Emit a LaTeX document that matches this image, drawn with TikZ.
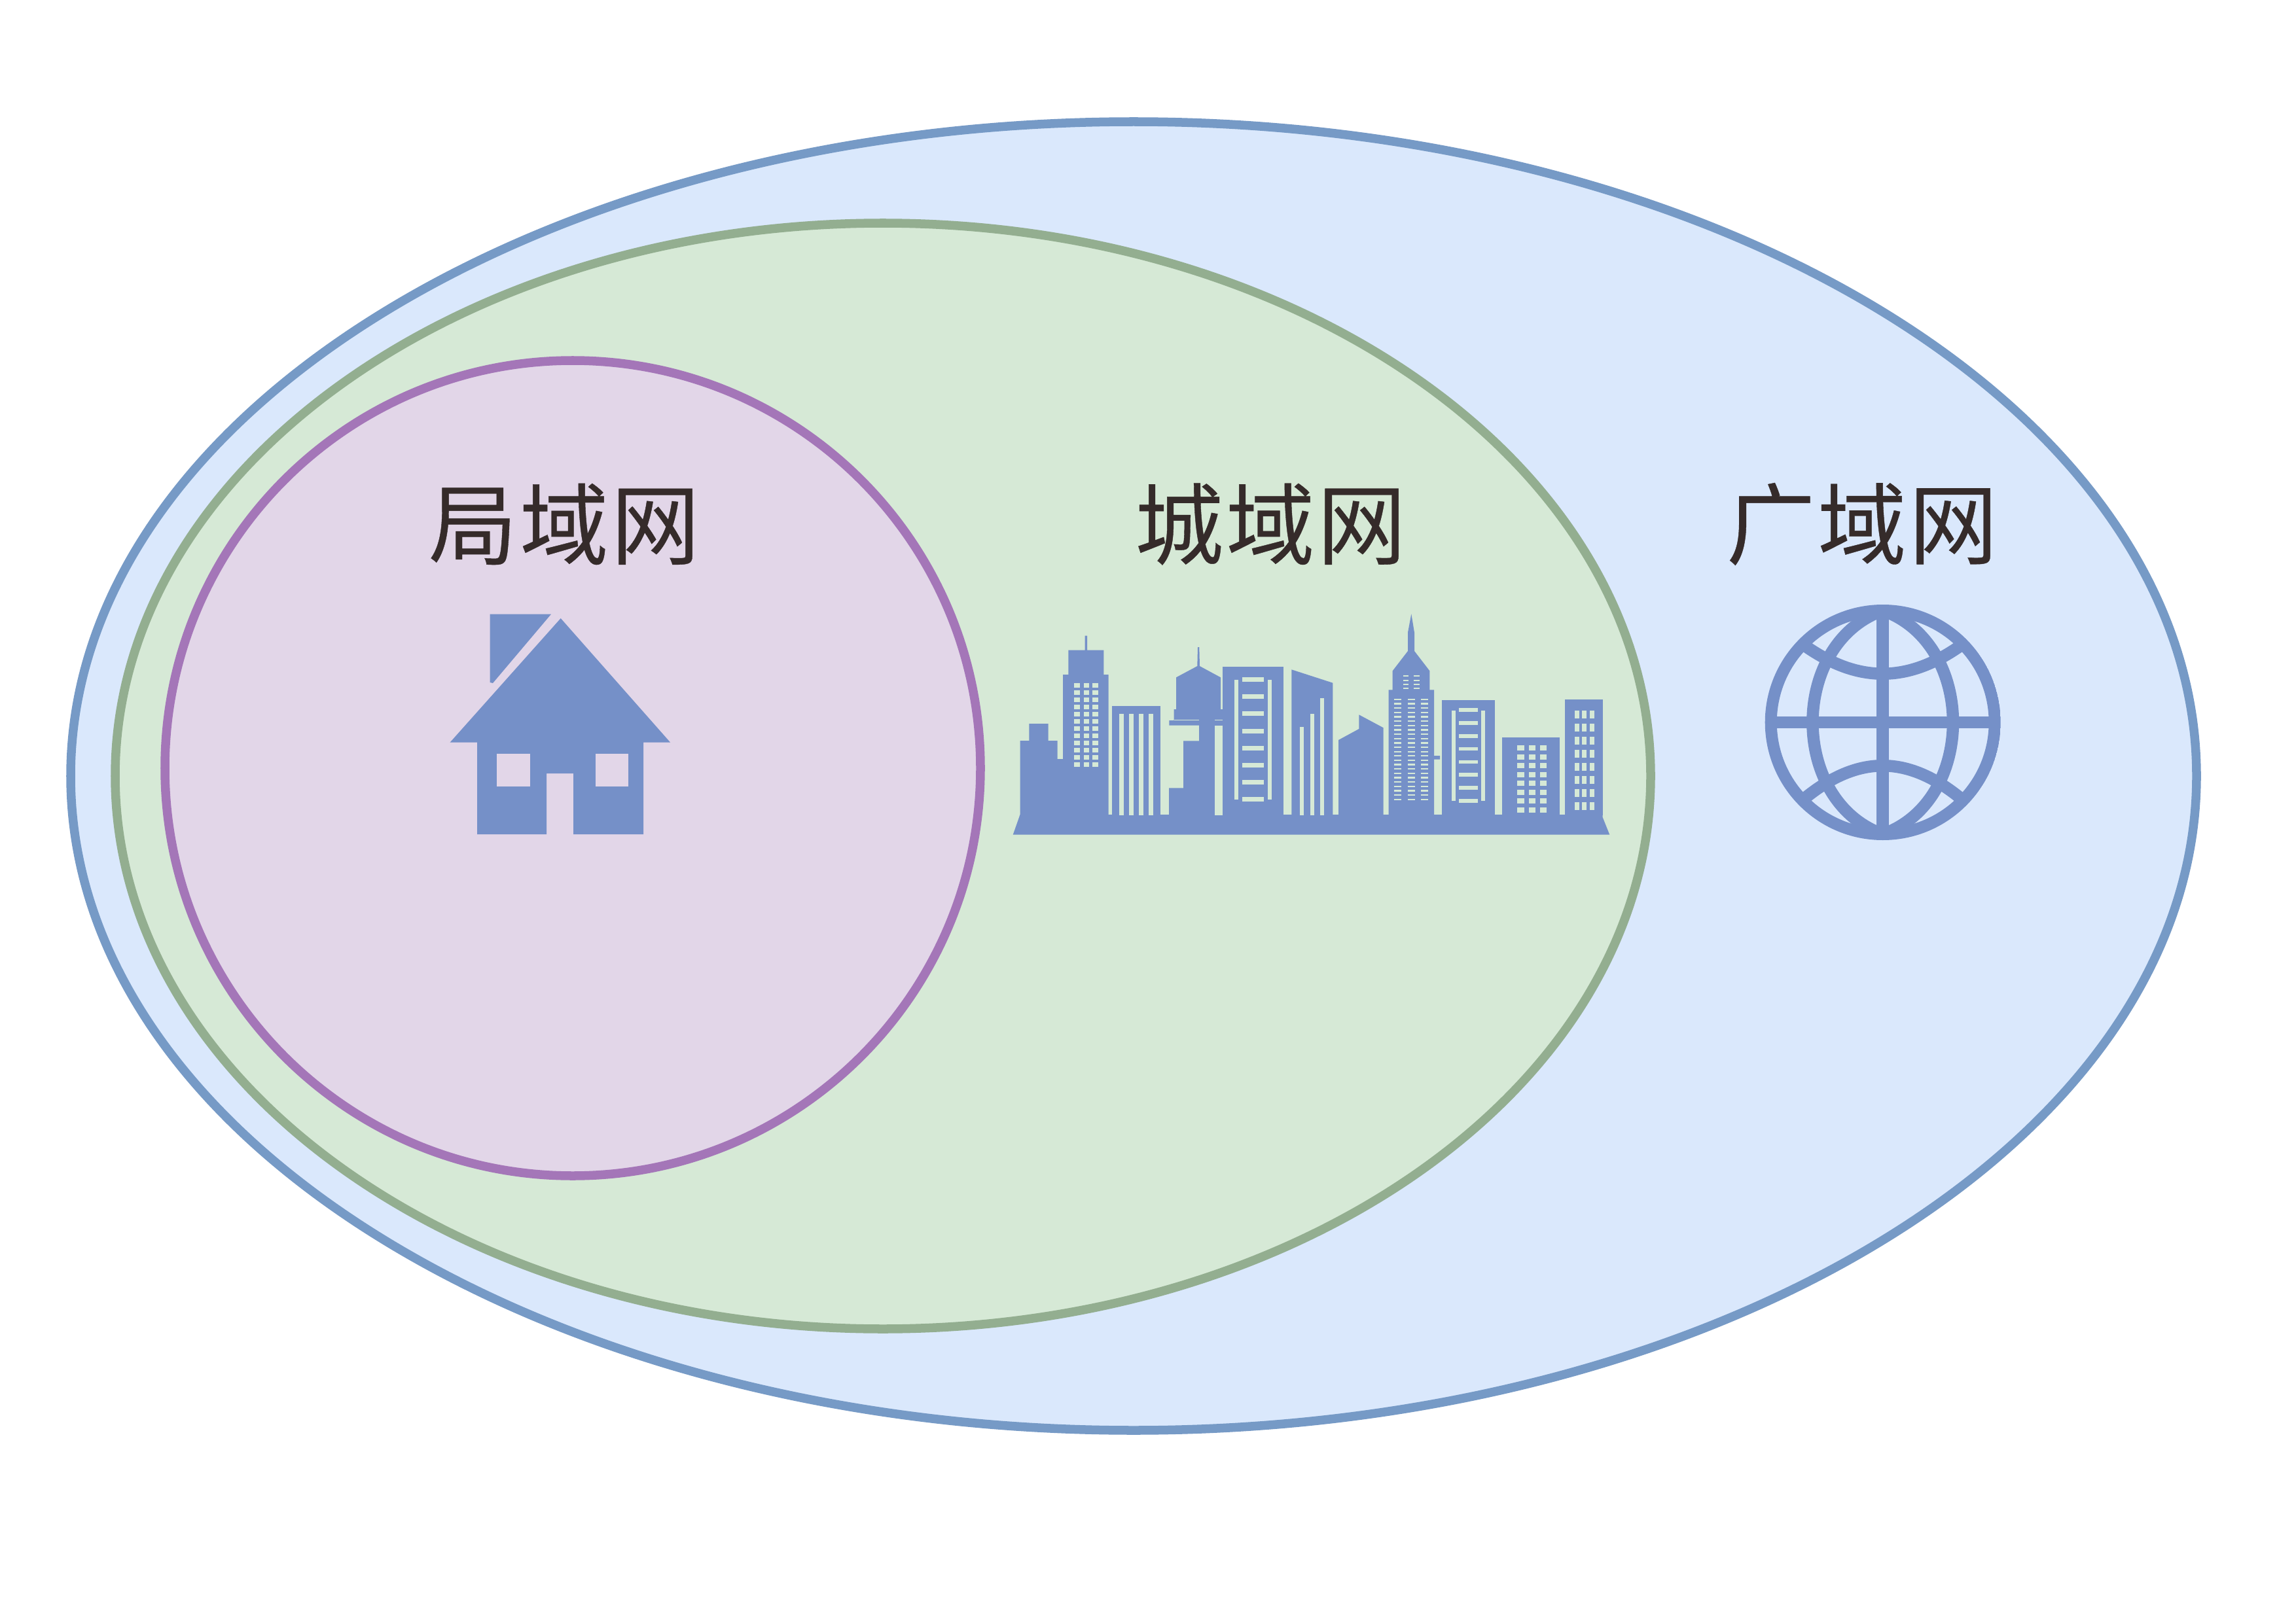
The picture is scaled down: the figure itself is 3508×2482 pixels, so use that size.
\documentclass[tikz,border=0pt]{standalone}
\usepackage{fontspec}
\setmainfont[LetterSpace=3,FakeBold=0.3]{Noto Sans CJK SC}
\definecolor{wanfill}{HTML}{DAE8FC}
\definecolor{wanline}{HTML}{769AC6}
\definecolor{manfill}{HTML}{D6E9D6}
\definecolor{manline}{HTML}{93AE90}
\definecolor{lanfill}{HTML}{E2D6E8}
\definecolor{lanline}{HTML}{A476B8}
\definecolor{iconcol}{HTML}{7590C8}
\definecolor{textcol}{HTML}{352B2A}
\tikzset{
  areatext/.style={text=textcol, font=\fontsize{38.5}{38.5}\selectfont, inner sep=0pt},
  icon/.style={fill=iconcol},
  cutman/.style={fill=manfill},
  cutlan/.style={fill=lanfill},
  globeline/.style={line width=0.185cm, draw=iconcol}
}
\begin{document}
\begin{tikzpicture}[x=0.01cm, y=-0.01cm]
    \useasboundingbox (0,0) rectangle (3508,2482);

    % nested areas
    \draw[line width=0.135cm, draw=wanline, fill=wanfill] (1732,1186) ellipse [x radius=1624, y radius=1000];
    \draw[line width=0.135cm, draw=manline, fill=manfill] (1349,1186) ellipse [x radius=1173, y radius=845];
    \draw[line width=0.135cm, draw=lanline, fill=lanfill] (875,1174) circle [radius=623];

    \node[areatext] (lanlabel) at (862,801) {局域网};
    \node[areatext] (manlabel) at (1941,801) {城域网};
    \node[areatext] (wanlabel) at (2845,801) {广域网};

    % house
    \fill[icon] (748.7,938.7) -- (842,938.7) -- (753,1044) -- (748.7,1043) -- cycle;
    \fill[icon] (856.7,945) -- (1024,1134.5) -- (983,1134.5) -- (983,1275) -- (876,1275) -- (876,1182)
        -- (835,1182) -- (835,1275) -- (729,1275) -- (729,1134.5) -- (687.7,1134.5) -- cycle;
    \fill[cutlan] (759,1152) rectangle (809.7,1202);
    \fill[cutlan] (910,1152) rectangle (959.7,1202);

    % city: ground
    \fill[icon] (1547.7,1275.7) -- (1558.5,1245) -- (2448.7,1245) -- (2448.7,1249.3) -- (2459.3,1275.7) -- cycle;

    % city: stepped tower
    \fill[icon] (1558.7,1246) -- (1558.7,1132) -- (1572.3,1132) -- (1572.3,1106) -- (1601.7,1106) -- (1601.7,1132)
        -- (1615.7,1132) -- (1615.7,1160) -- (1624,1160) -- (1624,1031) -- (1632.3,1031) -- (1632.3,993.7)
        -- (1657.7,993.7) -- (1657.7,971.7) -- (1661,971.7) -- (1661,993.7) -- (1686.3,993.7) -- (1686.3,1031)
        -- (1693.7,1031) -- (1693.7,1246) -- cycle;
    \foreach \wx in {1641.3,1655.5,1669}
        \foreach \wy in {0,...,11}
            \fill[cutman] (\wx,{1044+\wy*11}) rectangle ++(8.7,6.5);

    % city: striped block
    \fill[icon] (1699,1079) rectangle (1773,1246);
    \foreach \wx in {1710,1725,1740,1755}
        \fill[cutman] (\wx,1091) rectangle ++(7,155);

    % city: antenna tower
    \fill[icon] (1786,1246) -- (1786,1204.3) -- (1808,1204.3) -- (1808,1132.3) -- (1832,1132.3) -- (1832,1108.7)
        -- (1786.3,1108.7) -- (1786.3,1101) -- (1793.7,1101) -- (1793.7,1084) -- (1797,1084) -- (1797,1035.3)
        -- (1829.3,1018) -- (1830,989) -- (1832.3,989) -- (1833,1018) -- (1865,1035.3) -- (1865,1084)
        -- (1868,1084) -- (1868,1246) -- cycle;
    \fill[cutman] (1793.7,1100) rectangle (1832,1101);
    \fill[cutman] (1856.3,1100) rectangle (1868,1101);
    \fill[cutman] (1856.3,1108.7) rectangle (1868,1246);

    % city: ladder block
    \fill[icon] (1867.7,1018.7) rectangle (1961,1246);
    \fill[cutman] (1885.7,1039.3) rectangle (1892,1222);
    \fill[cutman] (1936.7,1039.3) rectangle (1943,1222);
    \foreach \wy in {0,...,7}
        \fill[cutman] (1897.7,{1035+\wy*26.2}) rectangle ++(33.3,7);

    % city: slanted block
    \fill[icon] (1973.3,1246) -- (1973.3,1023.3) -- (2036.3,1043.7) -- (2036.3,1246) -- cycle;
    \fill[cutman] (1986,1111) rectangle (1991.7,1246);
    \fill[cutman] (2002.3,1091) rectangle (2008,1246);
    \fill[cutman] (2017.3,1067) rectangle (2023.3,1246);

    % city: low roof
    \fill[icon] (2045,1246) -- (2045,1131) -- (2076.3,1114) -- (2076.3,1092.3) -- (2113.7,1112.3) -- (2113.7,1246) -- cycle;

    % city: spire
    \fill[icon] (2121.7,1246) -- (2121.7,1054.3) -- (2127.7,1054.3) -- (2127.7,1025.3) -- (2151,995) -- (2151,966.7)
        -- (2156.3,938.3) -- (2161,966.7) -- (2161,995) -- (2184.3,1025.3) -- (2184.3,1054.3) -- (2191,1054.3)
        -- (2191,1155) -- (2200,1155) -- (2200,1160.7) -- (2191,1160.7) -- (2191,1246) -- cycle;
    \foreach \wx in {2143.7,2160}
        \foreach \wt in {1032.3,1039,1045,1051.3}
            \fill[cutman] (\wx,\wt) rectangle ++(8.5,2);
    \foreach \wx in {2130,2150.7,2171.3}
        \foreach \wy in {0,...,23}
            \fill[cutman] (\wx,{1067.7+\wy*6.65}) rectangle ++(11,2.3);

    % city: second ladder block
    \fill[icon] (2202.7,1070) rectangle (2284.3,1246);
    \fill[cutman] (2218,1086) rectangle (2224,1224);
    \fill[cutman] (2263,1086) rectangle (2268.7,1224);
    \foreach \wy in {0,...,7}
        \fill[cutman] (2229,{1082.3+\wy*19.8}) rectangle ++(29,5.7);

    % city: right blocks
    \fill[icon] (2295,1127) rectangle (2383,1246);
    \foreach \wx in {2318.3,2335.5,2352.7}
        \foreach \wy in {0,...,7}
            \fill[cutman] (\wx,{1139+\wy*13.5}) rectangle ++(10.6,8);
    \fill[icon] (2390.7,1069) rectangle (2448.7,1246);
    \foreach \wx in {2406.3,2417.3,2428.7}
        \foreach \wy in {0,...,7}
            \fill[cutman] (\wx,{1086.3+\wy*20}) rectangle ++(7,12);

    % globe
    \begin{scope}
        \clip (2876.7,1104) circle [radius=180];
        \draw[globeline] (2876.7,1104) circle [radius=171.2];
        \draw[globeline] (2876.7,933) .. controls (2733.7,984) and (2733.7,1224) .. (2876.7,1275);
        \draw[globeline] (2876.7,933) .. controls (3019.7,984) and (3019.7,1224) .. (2876.7,1275);
        \draw[globeline] (2876.7,930) -- (2876.7,1280);
        \draw[globeline] (2700,1104) -- (3055,1104);
        \draw[globeline] (2755,985) .. controls (2838,1044.6) and (2915,1044.6) .. (2998,985);
        \draw[globeline] (2755,1222) .. controls (2838,1153) and (2915,1153) .. (2998,1222);
    \end{scope}
\end{tikzpicture}
\end{document}
